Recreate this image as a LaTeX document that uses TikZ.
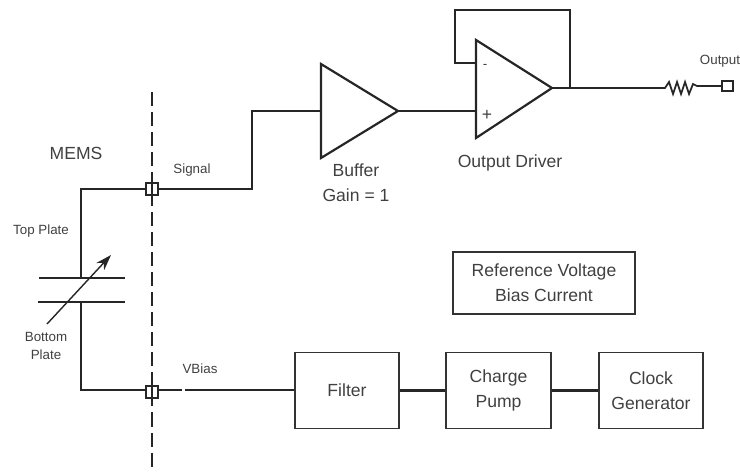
\documentclass[tikz,border=0pt]{standalone}
\usepackage{fontspec}
\setmainfont{Liberation Sans}
\usetikzlibrary{arrows.meta}
\tikzset{wire/.style = {line width=1.25pt, black!85},
         blockbox/.style = {draw, line width=0.8pt, black!80, text=black!75, align=center, font=\fontsize{10}{14}\selectfont},
         padbox/.style = {draw, line width=1.1pt, black!85, fill=white, inner sep=0pt, minimum size=0.24cm},
         txt/.style = {text=black!75, align=center, inner sep=0pt, font=\fontsize{10}{14}\selectfont},
         smalltxt/.style = {text=black!75, align=center, inner sep=0pt, font=\fontsize{7.6}{10.5}\selectfont}}

\begin{document}
\begin{tikzpicture}[x = 0.02cm, y = 0.02cm]
\useasboundingbox (0,0) rectangle (740,471);
% boundary of the MEMS die
\draw [wire, line width=1.4pt, dash pattern=on 8pt off 3.4pt] (152,379) -- (152,0);
% pads
\node [padbox] (sigpad) at (152,282) {};
\node [padbox] (biaspad) at (152,79) {};
\draw [line width=0.8pt, black!85] (sigpad.north) -- (sigpad.south);
\draw [line width=0.8pt, black!85] (biaspad.north) -- (biaspad.south);
\node [padbox, minimum size=0.21cm] (outpad) at (727.5,385) {};
% blocks
\node [blockbox, minimum width=3.64cm, minimum height=1.24cm] (reference) at (544,188) {Reference Voltage\\Bias Current};
\node [blockbox, minimum width=2.08cm, minimum height=1.52cm] (filter) at (347,80.5) {Filter};
\node [blockbox, minimum width=2.1cm, minimum height=1.52cm] (pump) at (498.5,80.5) {Charge\\Pump};
\node [blockbox, minimum width=2.08cm, minimum height=1.52cm] (clock) at (651,80.5) {Clock\\Generator};
% capacitor
\coordinate (topcorner) at (81,282);
\coordinate (botcorner) at (81,81);
\coordinate (topplate) at (81,193);
\coordinate (botplate) at (81,169);
\draw [wire] (39,193) -- (125,193);
\draw [wire] (38,169) -- (125,169);
\draw [-{Stealth[length=9pt,width=6pt]}, line width=0.8pt, black!85] (47,147) -- (111,216);
\draw [wire] (sigpad) -- (topcorner) -- (topplate);
\draw [wire] (botplate) -- (botcorner) -- (biaspad.west |- botcorner);
% buffer
\coordinate (bufin) at (321,360);
\coordinate (bufout) at (398,360);
\draw [wire] (321,407) -- (321,313) -- (bufout) -- cycle;
\coordinate (sigcorner) at (252,282);
\coordinate (bufcorner) at (252,360);
\draw [wire] (sigpad) -- (sigcorner) -- (bufcorner) -- (bufin);
% output driver
\coordinate (plusin) at (476,360);
\coordinate (minusin) at (476,408);
\coordinate (drvout) at (552,383);
\draw [wire] (476,431) -- (476,333) -- (drvout) -- cycle;
\draw [wire] (bufout) -- (plusin);
\coordinate (fbtap) at (570,383);
\draw [wire] (minusin) -- (455,408) -- (455,461) -- (570,461) -- (fbtap);
% resistor
\coordinate (resin) at (665,383);
\coordinate (resout) at (697,385);
\draw [wire, line width=1pt] (drvout) -- (resin) -- (669,389) -- (673,377) -- (677,389) -- (681,377) -- (685,389) -- (689,377) -- (693,387) -- (resout) -- (outpad);
% lower chain
\coordinate (gapa) at (182,81);
\coordinate (gapb) at (185,81);
\draw [wire] (biaspad.east |- gapa) -- (gapa);
\draw [wire] (gapb) -- (filter.west |- gapb);
\draw [wire] (filter) -- (pump);
\draw [wire] (pump) -- (clock);
% labels
\node [txt] (memslabel) at (76,318) {MEMS};
\node [smalltxt] (signallabel) at (192,301) {Signal};
\node [smalltxt] (toplabel) at (41,240) {Top Plate};
\node [smalltxt] (botlabel) at (46,125) {Bottom\\Plate};
\node [smalltxt] (biaslabel) at (200,102) {VBias};
\node [txt] (buflabel) at (356,288) {Buffer\\Gain = 1};
\node [txt] (drvlabel) at (510,308) {Output Driver};
\node [smalltxt] (outlabel) at (720,410) {Output};
\node [smalltxt] (minuslabel) at (485,405) {-};
\node [txt] (pluslabel) at (487,356) {+};
\end{tikzpicture}
\end{document}
